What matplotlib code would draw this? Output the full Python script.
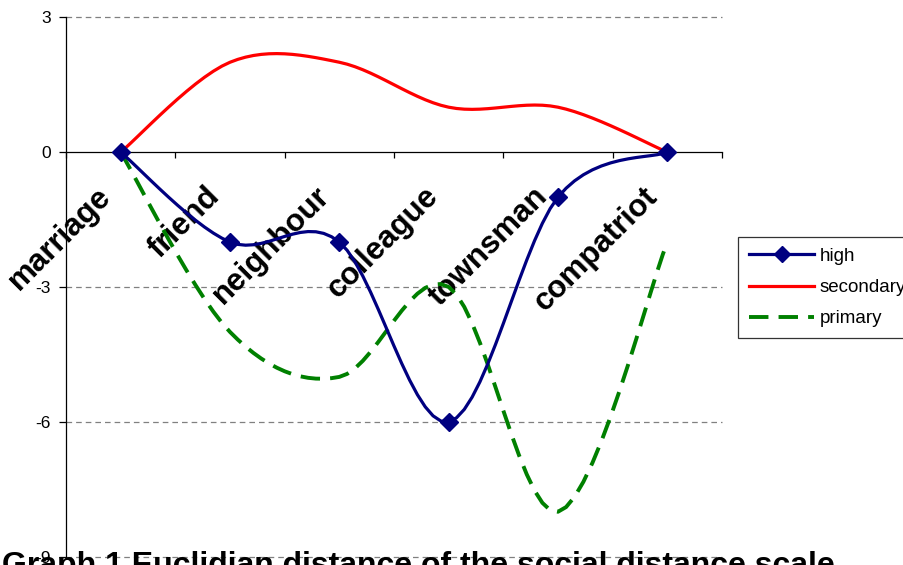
import numpy as np
import matplotlib
matplotlib.use("Agg")
import matplotlib.pyplot as plt
from matplotlib.lines import Line2D

# ---- data -------------------------------------------------------------
categories = ["marriage", "friend", "neighbour", "colleague", "townsman", "compatriot"]
high = [0, -2, -2, -6, -1, 0]
secondary = [0, 2, 2, 1, 1, 0]
primary = [0, -4, -5, -3, -8, -2]
series_names = ["high", "secondary", "primary"]
y_ticks = [-9, -6, -3, 0, 3]
caption = "Graph 1 Euclidian distance of the social distance scale"

NAVY = "#000080"
RED = "#FF0000"
GREEN = "#008000"
GRID = "#808080"


def smooth(values, steps=14):
    """Catmull-Rom style cubic Bezier through the points (spreadsheet 'smoothed line')."""
    pts = np.column_stack([np.arange(len(values), dtype=float),
                           np.asarray(values, dtype=float)])
    n = len(pts)
    t = np.linspace(0.0, 1.0, steps + 1)[1:, None]
    out = [pts[0]]
    for i in range(n - 1):
        p0 = pts[max(i - 1, 0)]
        p1 = pts[i]
        p2 = pts[i + 1]
        p3 = pts[min(i + 2, n - 1)]
        c1 = p1 + (p2 - p0) / 6.0
        c2 = p2 - (p3 - p1) / 6.0
        seg = ((1 - t) ** 3) * p1 + 3 * ((1 - t) ** 2) * t * c1 \
            + 3 * (1 - t) * (t ** 2) * c2 + (t ** 3) * p2
        out.extend(seg)
    out = np.array(out)
    return out[:, 0], out[:, 1]


plt.rcParams["font.family"] = ["Liberation Sans", "DejaVu Sans"]

W, H = 904, 565
fig = plt.figure(figsize=(W / 100, H / 100), dpi=100)
fig.patch.set_facecolor("white")

left, right, top, bottom = 66, 722, 17.3, 556.7
ax = fig.add_axes([left / W, 1 - bottom / H, (right - left) / W, (bottom - top) / H])
ax.set_xlim(-0.5, len(categories) - 0.5)
ax.set_ylim(min(y_ticks), max(y_ticks))

# axes frame: value axis on the left, category axis crossing at zero
for side in ("top", "right"):
    ax.spines[side].set_visible(False)
ax.spines["bottom"].set_position(("data", 0))
ax.spines["bottom"].set_color("#000000")
ax.spines["bottom"].set_linewidth(0.9)
ax.spines["left"].set_color("#000000")
ax.spines["left"].set_linewidth(0.9)

ax.set_xticks(np.arange(-0.5, len(categories), 1.0))
ax.set_xticklabels([])
ax.tick_params(axis="x", direction="out", length=4.5, width=0.9, color="#000000")

ax.set_yticks(y_ticks)
ax.set_yticklabels([str(v) for v in y_ticks])
ax.tick_params(axis="y", direction="out", length=5, width=0.9, pad=6,
               labelsize=12.5, color="#000000")

# dashed horizontal gridlines
for v in y_ticks:
    if v != 0:
        ax.axhline(v, color=GRID, lw=0.9, dashes=(4.5, 3.2), zorder=0, clip_on=False)

# series
xp, yp = smooth(primary)
ax.plot(xp, yp, color=GREEN, lw=2.8, dashes=(5, 2.6), zorder=3,
        solid_capstyle="butt", dash_capstyle="butt")
xs, ys = smooth(secondary)
ax.plot(xs, ys, color=RED, lw=2.3, zorder=4)
xh, yh = smooth(high)
ax.plot(xh, yh, color=NAVY, lw=2.3, zorder=5)
ax.plot(np.arange(len(high)), high, ls="none", marker="D", ms=9.5,
        color=NAVY, zorder=6, clip_on=False)

# rotated category names hanging below the zero axis
for i, name in enumerate(categories):
    ax.annotate(name, xy=(i, 0), xycoords="data", xytext=(-2.8, -21.0),
                textcoords="offset points", rotation=45, ha="right", va="top",
                fontsize=22.5, fontweight="bold", color="black", zorder=2)

# legend
handles = [
    Line2D([], [], color=NAVY, lw=2.3, marker="D", ms=8),
    Line2D([], [], color=RED, lw=2.3),
    Line2D([], [], color=GREEN, lw=2.8, dashes=(5, 2.6)),
]
leg = fig.legend(handles, series_names, loc="upper left",
                 bbox_to_anchor=(738 / W, 1 - 237 / H), frameon=True,
                 fancybox=False, edgecolor="black", fontsize=13.5,
                 handlelength=3.5, handletextpad=0.27, labelspacing=0.75,
                 borderpad=0.58, borderaxespad=0, numpoints=1)
leg.get_frame().set_linewidth(0.9)

# caption along the bottom edge
fig.text(2 / W, 1 - 551 / H, caption, ha="left", va="top",
         fontsize=23, fontweight="bold", color="black")

fig.savefig("out.png", dpi=100, facecolor="white")
